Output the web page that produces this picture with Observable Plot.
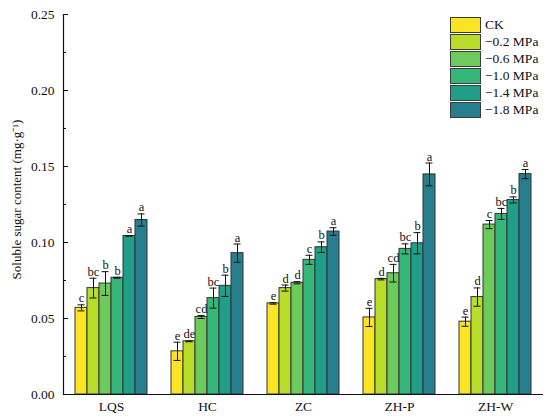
<!DOCTYPE html>
<html>
<head>
<meta charset="utf-8">
<script src="https://cdn.jsdelivr.net/npm/d3@7"></script>
<script src="https://cdn.jsdelivr.net/npm/@observablehq/plot@0.6"></script>
<style>
  html, body { margin: 0; padding: 0; background: #fff; }
  #wrap { position: relative; width: 550px; height: 420px; font-family: "Liberation Serif", "Times New Roman", serif; }
  #legend { position: absolute; left: 450px; top: 16px; }
  .li { display: flex; align-items: center; height: 17px; }
  .sw { width: 29px; height: 14px; border: 1px solid #3a3a3a; margin-right: 4px; }
  .lt { font-size: 13.5px; color: #111; }
</style>
</head>
<body>
<div id="wrap"><div id="legend"></div></div>
<script>
const groups = ["LQS", "HC", "ZC", "ZH-P", "ZH-W"];
const treatments = ["CK", "−0.2 MPa", "−0.6 MPa", "−1.0 MPa", "−1.4 MPa", "−1.8 MPa"];
const colors = ["#fbe423", "#b7dd29", "#6ccb5b", "#35b779", "#1f9e89", "#277f8e"];

const valLQS = [0.0570, 0.0700, 0.0730, 0.0768, 0.1043, 0.1148];
const errLQS = [0.0020, 0.0065, 0.0078, 0.0003, 0.0000, 0.0040];
const letLQS = ["c", "bc", "b", "b", "a", "a"];

const valHC = [0.0284, 0.0350, 0.0510, 0.0634, 0.0715, 0.0930];
const errHC = [0.0060, 0.0003, 0.0010, 0.0066, 0.0070, 0.0060];
const letHC = ["e", "de", "cd", "bc", "b", "a"];

const valZC = [0.0599, 0.0700, 0.0735, 0.0886, 0.0969, 0.1072];
const errZC = [0.0005, 0.0020, 0.0007, 0.0030, 0.0035, 0.0025];
const letZC = ["e", "d", "d", "c", "b", "a"];

const valZHP = [0.0507, 0.0759, 0.0798, 0.0958, 0.0995, 0.1448];
const errZHP = [0.0060, 0.0005, 0.0058, 0.0033, 0.0070, 0.0075];
const letZHP = ["e", "d", "cd", "bc", "b", "a"];

const valZHW = [0.0479, 0.0641, 0.1118, 0.1188, 0.1280, 0.1450];
const errZHW = [0.0030, 0.0060, 0.0027, 0.0036, 0.0020, 0.0030];
const letZHW = ["e", "d", "c", "bc", "b", "a"];

const yTicks = [0, 0.05, 0.10, 0.15, 0.20, 0.25];
const yMinor = [0.025, 0.075, 0.125, 0.175, 0.225];
const yLabel = "Soluble sugar content (mg·g⁻¹)";

const vals = [valLQS, valHC, valZC, valZHP, valZHW];
const errs = [errLQS, errHC, errZC, errZHP, errZHW];
const lets = [letLQS, letHC, letZC, letZHP, letZHW];
const data = [];
groups.forEach((g, gi) => treatments.forEach((t, ti) => data.push({
  group: g, treat: t, v: vals[gi][ti], e: errs[gi][ti], letter: lets[gi][ti]
})));

const font = "'Liberation Serif', 'Times New Roman', serif";

const chart = Plot.plot({
  width: 550,
  height: 420,
  marginLeft: 61,
  marginRight: 5,
  marginTop: 14,
  marginBottom: 26,
  style: { fontFamily: font, fontSize: "13.5px", color: "#111", background: "#fff" },
  fx: { domain: groups, padding: 0, tickSize: 0, tickPadding: 7, label: null },
  x: { domain: treatments, paddingInner: 0, paddingOuter: 0.75, axis: null },
  y: { domain: [0, 0.25], axis: null },
  color: { domain: treatments, range: colors },
  marks: [
    Plot.barY(data, { fx: "group", x: "treat", y: "v", fill: "treat", stroke: "#333", strokeWidth: 1 }),
    Plot.ruleX(data, { fx: "group", x: "treat", y1: d => d.v - d.e, y2: d => d.v + d.e, stroke: "#111", strokeWidth: 1 }),
    Plot.tickY(data, { fx: "group", x: "treat", y: d => d.v + d.e, stroke: "#111", insetLeft: 2.5, insetRight: 2.5 }),
    Plot.tickY(data, { fx: "group", x: "treat", y: d => d.v - d.e, stroke: "#111", insetLeft: 2.5, insetRight: 2.5 }),
    Plot.text(data, { fx: "group", x: "treat", y: d => d.v + d.e, text: "letter", lineAnchor: "bottom", dy: -2.5, fontSize: 12.5, fill: "#111" }),
    Plot.ruleY([0], { stroke: "#111", strokeWidth: 1.2 }),
    Plot.axisY({ ticks: yTicks, tickFormat: d3.format(".2f"), tickSize: -5, tickPadding: 14, label: null, stroke: "#111", fill: "#111" }),
    Plot.axisY({ ticks: yMinor, tickSize: -3, fill: "none", label: null, stroke: "#111" }),
    Plot.frame({ anchor: "left", facetAnchor: "left", stroke: "#111", strokeWidth: 1.2 }),
    Plot.text([yLabel], { frameAnchor: "left", facetAnchor: "left", textAnchor: "middle", rotate: -90, dx: -47, dy: -5, fontSize: 13, fill: "#111" })
  ]
});
document.getElementById("wrap").prepend(chart);

const leg = document.getElementById("legend");
treatments.forEach((t, i) => {
  const row = document.createElement("div");
  row.className = "li";
  const sw = document.createElement("div");
  sw.className = "sw";
  sw.style.background = colors[i];
  const lt = document.createElement("span");
  lt.className = "lt";
  lt.textContent = t;
  row.appendChild(sw);
  row.appendChild(lt);
  leg.appendChild(row);
});
</script>
</body>
</html>
